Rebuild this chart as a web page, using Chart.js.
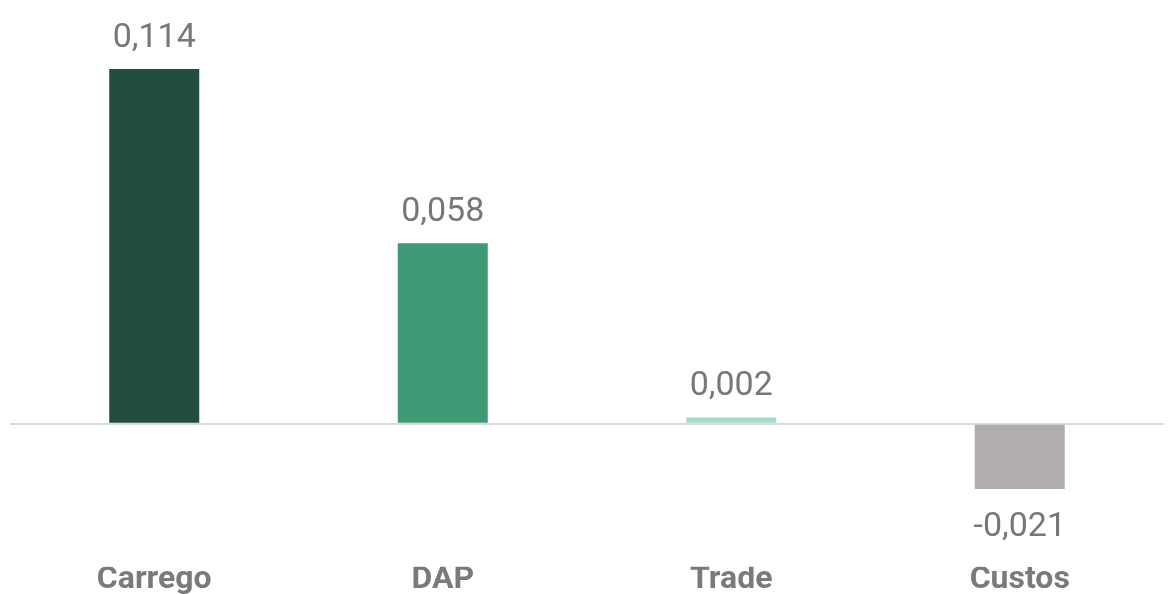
<!DOCTYPE html>
<html>
<head>
<meta charset="utf-8">
<script src="https://cdn.jsdelivr.net/npm/chart.js@4/dist/chart.umd.min.js"></script>
<style>
  html, body { margin: 0; padding: 0; background: #fff; }
  #wrap { width: 1168px; height: 594px; }
</style>
</head>
<body>
<div id="wrap"><canvas id="grafico"></canvas></div>
<script>
// dati
var categorie = ['Carrego', 'DAP', 'Trade', 'Custos'];
var valori = [0.114, 0.058, 0.002, -0.021];
var colori = ['#234d3d', '#3f9975', '#a6dcc6', '#b1acaf'];

// etichette dei valori sopra/sotto le barre
var etichettePlugin = {
  id: 'etichette',
  afterDatasetsDraw: function (chart) {
    var ctx = chart.ctx;
    var meta = chart.getDatasetMeta(0);
    ctx.save();
    ctx.font = '34px Roboto';
    ctx.fillStyle = '#777777';
    ctx.textAlign = 'center';
    ctx.textBaseline = 'alphabetic';
    meta.data.forEach(function (bar, i) {
      var v = valori[i];
      var testo = v.toFixed(3).replace('.', ',');
      if (v >= 0) {
        ctx.fillText(testo, bar.x, bar.y - 22);
      } else {
        ctx.fillText(testo, bar.x, bar.y + 47);
      }
    });
    ctx.restore();
  }
};

var chart = new Chart(document.getElementById('grafico'), {
  type: 'bar',
  data: {
    labels: categorie,
    datasets: [{
      data: valori,
      backgroundColor: colori,
      borderWidth: 0,
      barPercentage: 0.312,
      categoryPercentage: 1
    }]
  },
  options: {
    responsive: true,
    maintainAspectRatio: false,
    animation: false,
    layout: { padding: { left: 10, right: 4, top: 69, bottom: 0 } },
    plugins: {
      legend: { display: false },
      tooltip: { enabled: false }
    },
    scales: {
      x: {
        grid: { display: false, drawTicks: false },
        border: { display: false },
        ticks: {
          color: '#7a7a7a',
          font: { family: 'Roboto', size: 32, weight: 'bold', lineHeight: 0.85 },
          padding: 0
        }
      },
      y: {
        min: -0.046,
        max: 0.114,
        border: { display: false },
        ticks: { display: false },
        grid: {
          drawTicks: false,
          lineWidth: 2,
          color: function (c) {
            return c.tick && c.tick.value === 0 ? '#d9d9d9' : 'rgba(0,0,0,0)';
          }
        }
      }
    }
  },
  plugins: [etichettePlugin]
});
</script>
</body>
</html>
